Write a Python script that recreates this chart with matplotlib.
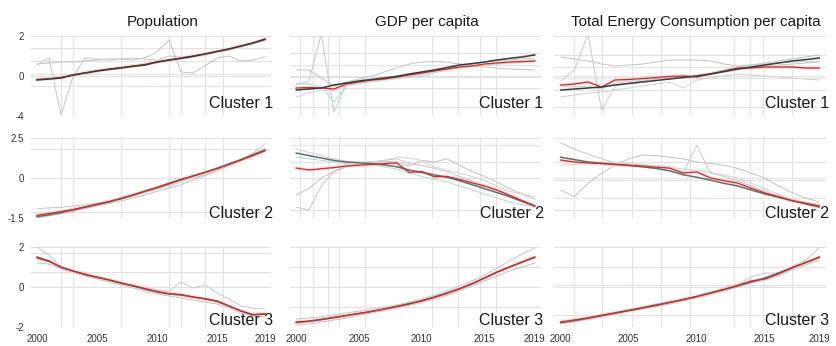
import numpy as np
import matplotlib
matplotlib.use("Agg")
import matplotlib.pyplot as plt

plt.rcParams['font.family'] = ['Liberation Sans', 'DejaVu Sans']

years = list(range(2000, 2020))
titles = ["Population", "GDP per capita", "Total Energy Consumption per capita"]
cluster_names = ["Cluster 1", "Cluster 2", "Cluster 3"]

# y range (top, bottom) of each cluster row, ticks at top / 0 / bottom
row_top = [2, 2.5, 2]
row_bottom = [-4, -1.5, -2]
row_ticklabels = [["2", "0", "-4"], ["2.5", "0", "-1.5"], ["2", "0", "-2"]]
x_ticks = [2000, 2005, 2010, 2015, 2019]

# ---- Population ----
pop1_mean = [-0.4, -0.3, -0.2, 0.05, 0.15, 0.25, 0.33, 0.4, 0.48, 0.55, 0.7, 0.8, 0.88, 0.98, 1.1, 1.23, 1.35, 1.5, 1.65, 1.85]
pop1_red = [-0.35, -0.28, -0.15, 0.05, 0.16, 0.26, 0.35, 0.42, 0.5, 0.58, 0.7, 0.8, 0.9, 1.0, 1.1, 1.22, 1.35, 1.5, 1.65, 1.82]
pop1_g1 = [0.55, 0.9, -3.9, -0.1, 0.9, 0.85, 0.8, 0.85, 0.9, 0.85, 0.8, 1.0, 0.95, 1.0, 1.1, 1.2, 1.3, 1.45, 1.6, 1.8]
pop1_g2 = [0.6, 0.65, 0.7, 0.7, 0.75, 0.8, 0.85, 0.85, 0.8, 0.9, 1.2, 1.8, 0.2, 0.15, 0.5, 0.9, 1.0, 0.75, 0.8, 0.95]
pop1_g3 = [-0.3, -0.2, -0.1, 0.0, 0.1, 0.2, 0.3, 0.38, 0.46, 0.55, 0.65, 0.75, 0.85, 0.95, 1.05, 1.18, 1.3, 1.45, 1.6, 1.8]

pop2_mean = [-1.45, -1.38, -1.3, -1.2, -1.1, -1.0, -0.9, -0.78, -0.65, -0.5, -0.37, -0.22, -0.07, 0.12, 0.35, 0.6, 0.88, 1.15, 1.45, 1.75]
pop2_red = [-1.4, -1.33, -1.26, -1.18, -1.08, -0.98, -0.88, -0.76, -0.63, -0.49, -0.35, -0.2, -0.05, 0.13, 0.35, 0.58, 0.85, 1.12, 1.4, 1.7]
pop2_g1 = [-1.15, -1.12, -1.1, -1.05, -1.0, -0.95, -0.87, -0.78, -0.66, -0.54, -0.42, -0.3, -0.15, 0.0, 0.2, 0.45, 0.75, 1.1, 1.55, 2.15]
pop2_g2 = [-1.5, -1.42, -1.34, -1.25, -1.15, -1.05, -0.96, -0.86, -0.75, -0.63, -0.5, -0.38, -0.25, -0.08, 0.15, 0.45, 0.8, 1.15, 1.5, 1.85]

pop3_mean = [1.5, 1.3, 0.98, 0.8, 0.62, 0.5, 0.35, 0.2, 0.05, -0.1, -0.25, -0.35, -0.4, -0.5, -0.58, -0.7, -0.95, -1.2, -1.4, -1.35]
pop3_red = [1.45, 1.28, 1.0, 0.8, 0.64, 0.48, 0.36, 0.2, 0.07, -0.08, -0.22, -0.33, -0.38, -0.5, -0.6, -0.72, -0.95, -1.2, -1.38, -1.35]
pop3_g1 = [2.0, 1.6, 1.0, 0.8, 0.6, 0.45, 0.3, 0.15, 0.05, -0.05, -0.15, -0.2, 0.25, -0.05, 0.1, -0.3, -0.6, -0.95, -1.05, -1.1]
pop3_g2 = [1.2, 1.15, 0.9, 0.75, 0.55, 0.4, 0.25, 0.1, -0.05, -0.2, -0.35, -0.45, -0.55, -0.65, -0.75, -0.85, -1.05, -1.3, -1.45, -1.5]

# ---- GDP per capita ----
gdp1_mean = [-1.4, -1.3, -1.2, -0.9, -0.7, -0.5, -0.35, -0.2, -0.05, 0.1, 0.2, 0.3, 0.42, 0.55, 0.62, 0.7, 0.8, 0.88, 0.95, 1.05]
gdp1_red = [-1.2, -1.15, -1.2, -1.3, -0.8, -0.6, -0.4, -0.3, -0.1, 0.05, 0.15, 0.25, 0.35, 0.45, 0.5, 0.6, 0.65, 0.7, 0.72, 0.75]
gdp1_g1 = [-0.9, -0.5, 2.1, -3.6, -0.8, -0.45, -0.3, -0.15, 0.0, 0.1, 0.2, 0.3, 0.4, 0.5, 0.6, 0.7, 0.75, 0.8, 0.85, 0.9]
gdp1_g2 = [0.3, 0.3, -0.2, -1.0, -0.6, -0.3, 0.0, 0.2, 0.4, 0.6, 0.7, 0.72, 0.7, 0.6, 0.5, 0.45, 0.4, 0.35, 0.32, 0.3]
gdp1_g3 = [-2.1, -1.7, -1.4, -1.5, -1.0, -0.7, -0.5, -0.35, -0.2, -0.05, 0.1, 0.25, 0.4, 0.5, 0.6, 0.7, 0.8, 0.9, 1.0, 1.1]
gdp1_g4 = [-0.7, -0.8, -1.1, -2.6, -1.0, -0.75, -0.55, -0.4, -0.25, -0.1, 0.0, 0.15, 0.3, 0.4, 0.5, 0.55, 0.6, 0.65, 0.7, 0.75]

gdp2_mean = [1.56, 1.4, 1.25, 1.1, 1.0, 0.95, 0.9, 0.82, 0.7, 0.5, 0.35, 0.2, 0.05, -0.1, -0.25, -0.4, -0.55, -0.7, -0.88, -1.05]
gdp2_red = [0.62, 0.5, 0.58, 0.65, 0.75, 0.8, 0.85, 0.9, 0.94, 0.35, 0.4, 0.08, 0.1, -0.05, -0.18, -0.3, -0.45, -0.65, -0.85, -1.05]
gdp2_g1 = [-1.1, -1.2, -0.3, 0.4, 0.75, 0.9, 1.0, 1.1, 1.2, 0.9, 0.8, 0.6, 0.4, 0.1, -0.1, -0.3, -0.5, -0.7, -0.85, -1.0]
gdp2_g2 = [-0.64, -0.4, 0.0, 0.4, 0.7, 0.85, 1.0, 1.05, 1.0, 0.75, 1.1, 1.0, 1.2, 0.8, 0.4, 0.1, -0.15, -0.4, -0.6, -0.8]
gdp2_g3 = [1.8, 1.6, 1.4, 1.2, 1.05, 1.0, 1.0, 1.1, 1.3, 1.25, 1.1, 0.7, 0.5, 0.3, 0.1, -0.1, -0.3, -0.5, -0.6, -0.7]
gdp2_g4 = [1.3, 1.2, 1.1, 1.0, 0.9, 0.85, 0.8, 0.7, 0.55, 0.3, 0.1, -0.05, -0.15, -0.3, -0.45, -0.6, -0.75, -0.9, -1.0, -1.1]

gdp3_mean = [-1.78, -1.72, -1.63, -1.53, -1.43, -1.33, -1.22, -1.1, -0.97, -0.83, -0.68, -0.5, -0.3, -0.08, 0.17, 0.45, 0.74, 1.0, 1.25, 1.48]
gdp3_red = [-1.75, -1.7, -1.62, -1.52, -1.42, -1.32, -1.22, -1.1, -0.98, -0.85, -0.7, -0.52, -0.32, -0.1, 0.15, 0.45, 0.75, 1.0, 1.25, 1.5]
gdp3_g1 = [-1.6, -1.55, -1.48, -1.4, -1.3, -1.2, -1.1, -1.0, -0.9, -0.75, -0.6, -0.4, -0.2, 0.05, 0.3, 0.6, 0.95, 1.3, 1.65, 1.95]
gdp3_g2 = [-1.9, -1.85, -1.75, -1.65, -1.55, -1.42, -1.3, -1.18, -1.05, -0.92, -0.78, -0.6, -0.42, -0.2, 0.05, 0.3, 0.55, 0.8, 1.0, 1.2]

# ---- Total energy consumption per capita ----
en1_mean = [-1.4, -1.3, -1.2, -1.1, -0.9, -0.75, -0.6, -0.45, -0.3, -0.15, 0.0, 0.1, 0.22, 0.35, 0.45, 0.55, 0.65, 0.75, 0.82, 0.9]
en1_red = [-0.9, -0.8, -0.6, -1.1, -0.4, -0.35, -0.25, -0.15, -0.05, 0.0, -0.1, 0.1, 0.25, 0.4, 0.4, 0.45, 0.45, 0.45, 0.4, 0.4]
en1_g1 = [-0.5, 0.3, 2.1, -3.4, -1.0, -0.7, -0.5, -0.3, -0.2, -0.1, 0.0, 0.1, 0.2, 0.3, 0.4, 0.5, 0.55, 0.6, 0.65, 0.7]
en1_g2 = [0.95, 0.85, 0.75, 0.6, 0.5, 0.55, 0.6, 0.7, 0.8, 0.8, 0.8, 0.75, 0.6, 0.5, 0.55, 0.65, 0.75, 0.85, 0.95, 1.05]
en1_g3 = [-2.1, -1.9, -1.7, -1.6, -1.4, -1.2, -1.0, -0.8, -0.6, -1.2, -0.4, -0.2, 0.0, 0.1, 0.05, 0.0, -0.1, -0.2, -0.3, -0.4]
en1_g4 = [-1.0, -1.1, -1.0, -1.3, -0.7, -0.55, -0.4, -0.3, -0.15, -0.05, 0.05, 0.15, 0.3, 0.45, 0.55, 0.6, 0.65, 0.7, 0.72, 0.75]

en2_mean = [1.3, 1.15, 1.0, 0.92, 0.85, 0.78, 0.7, 0.6, 0.45, 0.2, 0.05, -0.08, -0.2, -0.3, -0.45, -0.6, -0.72, -0.85, -0.95, -1.05]
en2_red = [1.12, 1.0, 0.94, 0.9, 0.85, 0.8, 0.75, 0.68, 0.62, 0.31, 0.38, 0.0, -0.1, -0.19, -0.38, -0.56, -0.7, -0.85, -0.97, -1.09]
en2_g1 = [2.2, 1.8, 1.5, 1.2, 0.94, 0.8, 0.7, 0.6, 0.45, 0.3, 2.06, 0.3, 0.1, -0.1, -0.3, -0.5, -0.65, -0.8, -0.9, -1.0]
en2_g2 = [-0.45, -0.7, -0.2, 0.3, 0.8, 1.2, 1.44, 1.4, 1.3, 1.2, 1.0, 0.9, 0.8, 0.6, 0.3, 0.0, -0.3, -0.55, -0.75, -0.9]
en2_g3 = [0.8, 0.85, 0.95, 1.0, 0.95, 0.9, 0.85, 0.8, 0.7, 0.55, 0.5, 0.35, 0.2, 0.0, -0.2, -0.4, -0.6, -0.8, -0.95, -1.1]

en3_mean = [-1.78, -1.68, -1.56, -1.43, -1.3, -1.17, -1.04, -0.9, -0.77, -0.63, -0.47, -0.3, -0.13, 0.05, 0.25, 0.45, 0.7, 0.97, 1.22, 1.48]
en3_red = [-1.75, -1.65, -1.55, -1.42, -1.3, -1.18, -1.05, -0.92, -0.78, -0.62, -0.48, -0.3, -0.12, 0.08, 0.3, 0.4, 0.65, 0.95, 1.22, 1.5]
en3_g1 = [-1.7, -1.62, -1.5, -1.38, -1.25, -1.12, -1.0, -0.85, -0.7, -0.7, -0.45, -0.25, -0.05, 0.15, 0.5, 0.7, 0.7, 1.0, 1.35, 1.95]
en3_g2 = [-1.85, -1.75, -1.62, -1.5, -1.36, -1.22, -1.1, -0.97, -0.85, -0.7, -0.55, -0.38, -0.2, 0.0, 0.2, 0.35, 0.55, 0.85, 1.1, 1.35]

panels = {
    (0, 0): (pop1_mean, pop1_red, [pop1_g1, pop1_g2, pop1_g3]),
    (1, 0): (pop2_mean, pop2_red, [pop2_g1, pop2_g2]),
    (2, 0): (pop3_mean, pop3_red, [pop3_g1, pop3_g2]),
    (0, 1): (gdp1_mean, gdp1_red, [gdp1_g1, gdp1_g2, gdp1_g3, gdp1_g4]),
    (1, 1): (gdp2_mean, gdp2_red, [gdp2_g1, gdp2_g2, gdp2_g3, gdp2_g4]),
    (2, 1): (gdp3_mean, gdp3_red, [gdp3_g1, gdp3_g2]),
    (0, 2): (en1_mean, en1_red, [en1_g1, en1_g2, en1_g3, en1_g4]),
    (1, 2): (en2_mean, en2_red, [en2_g1, en2_g2, en2_g3]),
    (2, 2): (en3_mean, en3_red, [en3_g1, en3_g2]),
}

# layout (pixels of the 836x346 canvas)
W, H = 836, 346
col_px = [(31, 271), (290, 541), (554, 826)]
row_px = [(36, 116), (138, 218), (247, 327)]
title_x = [0.55, 0.545, 0.52]
label_y = [0.1, 0.0, 0.03]
vgrid = [[2002, 2003, 2007, 2010, 2011, 2012, 2014, 2015.5, 2019],
         [2000.3, 2001.3, 2002.5, 2003.4, 2005.5, 2010.8, 2012.9, 2014.6, 2015.9],
         [2001, 2003, 2005.2, 2007.4, 2009.5, 2012.7, 2013.9, 2014.9, 2017, 2019]]
hgrid = {
    (0, 0): [1.4, 0.75, 0.1, -1.0], (0, 1): [1.15, 0.55, -0.1, -1.2, -3.1],
    (0, 2): [1.05, 0.45, -0.2, -1.4, -3.1],
    (1, 0): [1.8, 0.0, -1.28], (1, 1): [2.06, 1.0, -1.2], (1, 2): [1.0, -0.07, -0.75, -1.2],
    (2, 0): [1.7, 0.75], (2, 1): [1.0, 0.0, -1.0], (2, 2): [1.0, 0.1, -1.4],
}
grey_cols = ['#c8c8c8', '#c2c2c2', '#d2d2d2', '#b0d6d8']

fig = plt.figure(figsize=(W / 100, H / 100), dpi=100)

for (r, c), (mean, red, greys) in panels.items():
    x0, x1 = col_px[c]
    y0, y1 = row_px[r]
    ax = fig.add_axes([x0 / W, 1 - y1 / H, (x1 - x0) / W, (y1 - y0) / H])
    top, bot = row_top[r], row_bottom[r]

    def fwd(y, top=top, bot=bot):
        y = np.asarray(y, dtype=float)
        return np.where(y >= 0, y / top, y / -bot)

    def inv(u, top=top, bot=bot):
        u = np.asarray(u, dtype=float)
        return np.where(u >= 0, u * top, u * -bot)

    ax.set_yscale('function', functions=(fwd, inv))

    for i, g in enumerate(greys):
        ax.plot(years, g, color=grey_cols[i % len(grey_cols)], lw=0.7, zorder=2)
    ax.plot(years, red, color='#f5c4c0', lw=2.8, alpha=0.5, zorder=3, solid_capstyle='round')
    # dark cluster line sits on top of the red one in the first row
    mean_z = 6 if r == 0 else 4
    ax.plot(years, mean, color='#3a3a3a' if r == 0 else '#6b6b6b', lw=1.1, zorder=mean_z)
    ax.plot(years, red, color='#c0302c', lw=0.9, zorder=5)

    ax.set_xlim(1999.5, 2019.5)
    ax.set_ylim(bot, top)

    ax.set_yticks([top, 0, bot])
    ax.set_yticks(hgrid[(r, c)], minor=True)
    ax.set_xticks(x_ticks)
    ax.set_xticks(vgrid[c], minor=True)
    ax.grid(True, which='both', color='#e2e2e2', lw=0.8, zorder=0)
    ax.xaxis.grid(False, which='major')
    ax.tick_params(which='both', length=0, labelsize=7, colors='#333333', pad=5)

    if c == 0:
        ax.set_yticklabels(row_ticklabels[r])
    else:
        ax.set_yticklabels([])
    if r == 2:
        ax.set_xticklabels([str(t) for t in x_ticks])
    else:
        ax.set_xticklabels([])

    for s in ax.spines.values():
        s.set_visible(False)

    ax.text(1.01, label_y[r], cluster_names[r], transform=ax.transAxes,
            ha='right', va='baseline', fontsize=11.5, color='#1a1a1a', zorder=7)
    if r == 0:
        ax.set_title(titles[c], x=title_x[c], fontsize=11, pad=7, color='#1a1a1a')

fig.savefig('out.png', dpi=100, facecolor='white')
